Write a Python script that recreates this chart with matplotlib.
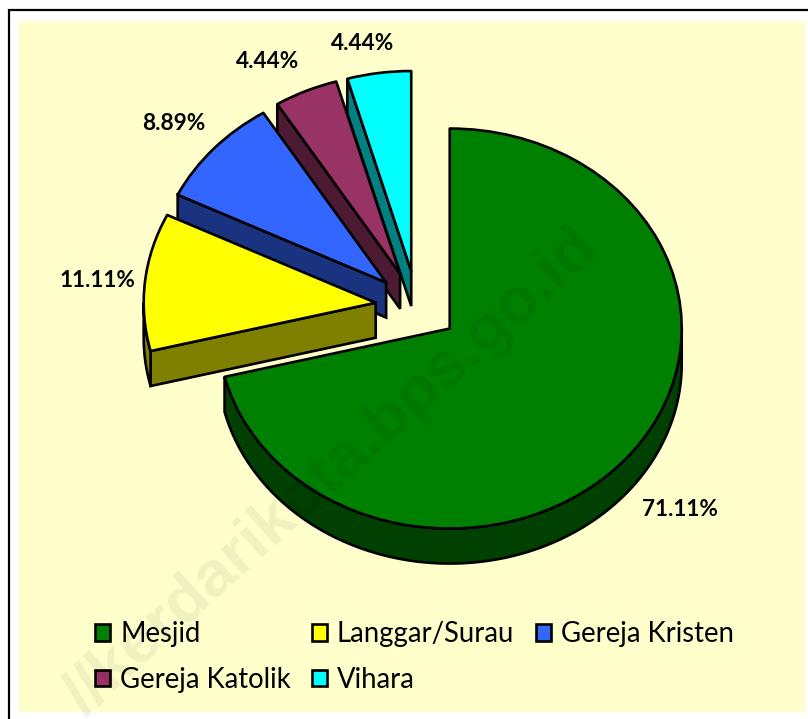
# Exploded pie with a fake 3D depth, tempat ibadah
import numpy as np
import matplotlib
matplotlib.use('Agg')
import matplotlib.pyplot as plt
from matplotlib.patches import Polygon, Rectangle

# Data
categories = ['Mesjid', 'Langgar/Surau', 'Gereja Kristen', 'Gereja Katolik', 'Vihara']
values = [71.11, 11.11, 8.89, 4.44, 4.44]

# Style
colors = ['#008000', '#FFFF00', '#3366FF', '#993366', '#00FFFF']
wall_colors = ['#004000', '#808000', '#1A3380', '#4D1A33', '#008080']
label_px = [(680, 510), (97, 281), (174, 124), (268, 62), (363, 43)]
legend_order = [0, 3, 1, 4, 2]

# Layout in pixels
W, H = 808, 719
cx, cy = 417, 306.5
rx, ry = 232, 200
depth = 35 / ry
lw = 1.9

plt.rcParams['font.family'] = ['Lato', 'DejaVu Sans']

fig = plt.figure(figsize=(W / 100, H / 100), dpi=100, facecolor='white')

# Panel and frame
fig.add_artist(Rectangle((19 / W, 1 - 712 / H), 786 / W, 691 / H, transform=fig.transFigure,
                         fc='#FFFFCC', ec='none', zorder=-2))
fig.add_artist(plt.Line2D([8.5 / W, 8.5 / W, 1], [0, 1 - 9.5 / H, 1 - 9.5 / H], transform=fig.transFigure,
                          color='black', lw=1.6, zorder=-1, solid_joinstyle='miter'))

# Axes are scaled so that radius 1 gives the flattened pie
ax = fig.add_axes([0, 0, 1, 1])
ax.patch.set_alpha(0)
wedges, _ = ax.pie(values, colors=colors, startangle=90, counterclock=False,
                   explode=[0.179] * len(values),
                   wedgeprops=dict(edgecolor='black', linewidth=lw, joinstyle='round'))
ax.set_aspect('auto')
ax.set_xlim(-cx / rx, (W - cx) / rx)
ax.set_ylim(-(H - cy) / ry, cy / ry)
ax.axis('off')

# Side walls, back slices first so the front ones cover them
for i, w in enumerate(wedges):
    z = 10 - i * 2
    w.set_zorder(z + 0.5)
    x0, y0 = w.center
    # cut side
    t = np.radians(w.theta2)
    ex, ey = x0 + np.cos(t), y0 + np.sin(t)
    ax.add_patch(Polygon([(x0, y0), (ex, ey), (ex, ey - depth), (x0, y0 - depth)], closed=True,
                         fc=wall_colors[i], ec='black', lw=lw, zorder=z))
    # outer rim, lower half only
    a1 = w.theta1 % 360
    a2 = a1 + (w.theta2 - w.theta1)
    lo, hi = max(a1, 180), min(a2, 360)
    if a1 >= 270 or a2 > 360:
        lo, hi = max(a1 - 360, -180), min(a2 - 360, 0)
    if hi > lo:
        th = np.radians(np.linspace(lo, hi, 120))
        top = np.column_stack([x0 + np.cos(th), y0 + np.sin(th)])
        bot = top[::-1] - [0, depth]
        ax.add_patch(Polygon(np.vstack([top, bot]), closed=True,
                             fc=wall_colors[i], ec='black', lw=lw, zorder=z + 0.2))

# Value labels
for v, (px, py) in zip(values, label_px):
    fig.text(px / W, 1 - py / H, f'{v:.2f}%', ha='center', va='center',
             fontsize=16.3, fontweight='bold', color='black', zorder=20)

# Legend
handles = [Rectangle((0, 0), 1, 1, fc=colors[i], ec='black', lw=lw) for i in legend_order]
labels = [categories[i] for i in legend_order]
fig.legend(handles, labels, ncol=3, loc='upper left', bbox_to_anchor=(95 / W, 1 - 621 / H),
           frameon=False, fontsize=19.8, borderpad=0, borderaxespad=0, handlelength=0.56,
           handleheight=0.56, handletextpad=0.35, columnspacing=0.77, labelspacing=0.72)

# Watermark
fig.text(332 / W, 1 - 472 / H, '//kerdarikota.bps.go.id', rotation=42, rotation_mode='anchor',
         ha='center', va='center', fontsize=47, fontweight='bold', family='Liberation Sans',
         color='black', alpha=0.06, zorder=30)

fig.savefig('out.png', dpi=100)
